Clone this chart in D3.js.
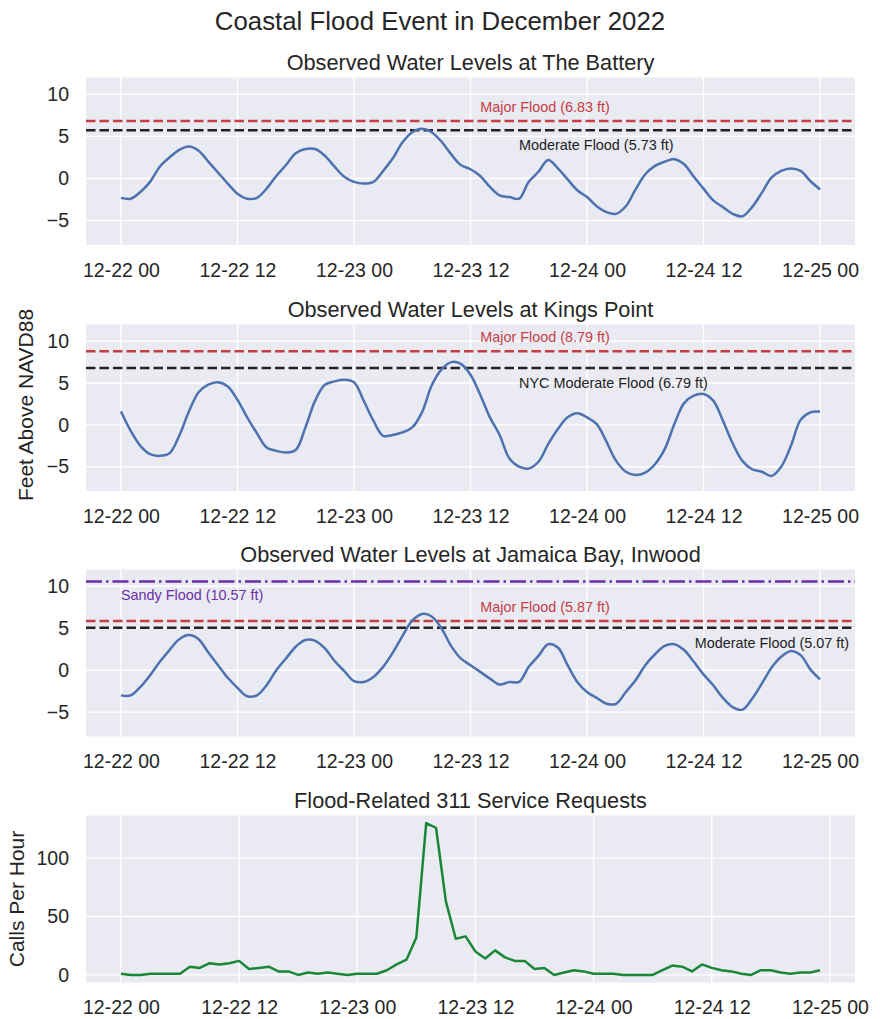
<!DOCTYPE html>
<html>
<head>
<meta charset="utf-8">
<script src="https://cdn.jsdelivr.net/npm/d3@7"></script>
<style>
  body { margin: 0; background: #fff; }
  svg { display: block; font-family: "Liberation Sans", Arial, sans-serif; }
</style>
</head>
<body>
<div id="chart"></div>
<script>
// hourly readings, 12-22 00:00 through 12-25 00:00 (feet above NAVD88)
const battery = [-2.3, -2.4, -1.6, -0.4, 1.4, 2.5, 3.4, 3.8, 3.3, 2.0, 0.7, -0.6, -1.8, -2.4, -2.3, -1.2,
  0.3, 1.6, 3.0, 3.5, 3.5, 2.7, 1.4, 0.2, -0.4, -0.6, -0.4, 0.9, 2.4, 4.3, 5.5, 5.9, 5.5, 4.4, 2.9, 1.6,
  1.1, 0.3, -1.0, -2.0, -2.2, -2.4, -0.4, 0.8, 2.2, 1.2, -0.1, -1.4, -2.2, -3.3, -4.0, -4.2, -3.3, -1.3,
  0.5, 1.5, 2.0, 2.3, 1.7, 0.2, -1.2, -2.6, -3.4, -4.2, -4.5, -3.4, -1.7, 0.1, 0.9, 1.2, 0.9, -0.3, -1.3];
const kingsPoint = [1.6, -0.7, -2.5, -3.5, -3.7, -3.4, -1.3, 1.6, 3.9, 4.8, 5.1, 4.6, 3.0, 0.9, -1.0, -2.7,
  -3.1, -3.3, -3.0, -0.3, 2.9, 4.8, 5.2, 5.4, 5.1, 2.9, 0.5, -1.3, -1.2, -0.9, -0.3, 1.5, 4.7, 6.6, 7.5, 7.3,
  6.0, 3.6, 0.9, -1.2, -4.0, -5.0, -5.2, -4.4, -2.3, -0.5, 0.9, 1.4, 0.9, 0.1, -2.0, -4.3, -5.6, -6.0, -5.7,
  -4.7, -2.9, 0.1, 2.6, 3.5, 3.7, 2.9, 0.5, -2.2, -4.3, -5.3, -5.6, -6.1, -5.0, -2.5, 0.6, 1.5, 1.6];
const jamaicaBay = [-3.0, -3.0, -2.0, -0.6, 1.0, 2.4, 3.7, 4.2, 3.7, 2.1, 0.6, -0.9, -2.1, -3.1, -3.0, -1.8,
  0.0, 1.4, 2.8, 3.6, 3.5, 2.6, 1.1, -0.1, -1.3, -1.4, -0.8, 0.4, 2.1, 4.1, 5.9, 6.7, 6.4, 5.0, 2.9, 1.4,
  0.6, -0.2, -1.0, -1.7, -1.4, -1.4, 0.4, 1.7, 3.1, 2.7, 0.6, -1.4, -2.6, -3.3, -4.0, -4.0, -2.6, -1.2,
  0.6, 1.9, 2.9, 3.1, 2.4, 1.0, -0.5, -1.8, -3.3, -4.4, -4.7, -3.4, -1.6, 0.3, 1.6, 2.3, 1.8, 0.1, -1.1];
// flood-related 311 calls per hour, 12-22 00:00 through 12-24 23:00
const calls311 = [1, 0, 0, 1, 1, 1, 1, 7, 6, 10, 9, 10, 12, 5, 6, 7, 3, 3, 0, 2, 1, 2, 1, 0,
  1, 1, 1, 4, 9, 13, 32, 130, 126, 63, 31, 33, 20, 14, 21, 15, 12, 12, 5, 6, 0, 2, 4, 3,
  1, 1, 1, 0, 0, 0, 0, 4, 8, 7, 3, 9, 6, 4, 3, 1, 0, 4, 4, 2, 1, 2, 2, 4];

const batteryFlood = [{ kind: 'major', name: 'Major Flood', level: 6.83 },
  { kind: 'moderate', name: 'Moderate Flood', level: 5.73 }];
const kingsPointFlood = [{ kind: 'major', name: 'Major Flood', level: 8.79 },
  { kind: 'moderate', name: 'NYC Moderate Flood', level: 6.79 }];
const jamaicaBayFlood = [{ kind: 'sandy', name: 'Sandy Flood', level: 10.57 },
  { kind: 'major', name: 'Major Flood', level: 5.87 },
  { kind: 'moderate', name: 'Moderate Flood', level: 5.07 }];

const levelTicks = [-5, 0, 5, 10];
const callTicks = [0, 50, 100];
const tickHours = [0, 12, 24, 36, 48, 60, 72];

const width = 880, height = 1019;
const left = 86, right = 855;
const textColor = '#262626';
const start = new Date(2022, 11, 22, 0);
const at = h => new Date(start.getTime() + h * 3600e3);
const fmt = d3.timeFormat('%m-%d %H');

const floodStyle = {
  major: { color: '#C63D42', dash: '9.5,4', hour: 37, dy: -14, anchor: 'start' },
  moderate: { color: '#222222', dash: '9.5,4', hour: 41, dy: 15, anchor: 'start' },
  sandy: { color: '#6B2FA6', dash: '16,4,2.5,4', hour: 0, dy: 13, anchor: 'start' }
};

const svg = d3.select('#chart').append('svg')
  .attr('width', width)
  .attr('height', height);

svg.append('text')
  .attr('x', width / 2).attr('y', 30)
  .attr('text-anchor', 'middle')
  .attr('font-size', 25.8)
  .attr('fill', textColor)
  .text('Coastal Flood Event in December 2022');

function drawPanel(p) {
  const x = d3.scaleTime().domain([at(p.xPad[0]), at(p.xPad[1])]).range([left, right]);
  const y = d3.scaleLinear().domain(p.yDomain).range([p.bottom, p.top]);
  const g = svg.append('g');

  g.append('rect')
    .attr('x', left).attr('y', p.top)
    .attr('width', right - left).attr('height', p.bottom - p.top)
    .attr('fill', '#EAEAF2');

  const clipId = 'clip' + p.id;
  g.append('clipPath').attr('id', clipId).append('rect')
    .attr('x', left).attr('y', p.top)
    .attr('width', right - left).attr('height', p.bottom - p.top);

  // grid
  g.append('g').selectAll('line').data(tickHours).join('line')
    .attr('x1', d => x(at(d))).attr('x2', d => x(at(d)))
    .attr('y1', p.top).attr('y2', p.bottom)
    .attr('stroke', '#fff').attr('stroke-width', 1.4);
  g.append('g').selectAll('line').data(p.yTicks).join('line')
    .attr('x1', left).attr('x2', right)
    .attr('y1', d => y(d)).attr('y2', d => y(d))
    .attr('stroke', '#fff').attr('stroke-width', 1.4);

  // axes (labels only, seaborn darkgrid style)
  const xAxis = g.append('g')
    .attr('transform', `translate(0,${p.bottom})`)
    .call(d3.axisBottom(x).tickValues(tickHours.map(at)).tickFormat(fmt).tickSize(0).tickPadding(18));
  xAxis.select('.domain').remove();
  xAxis.selectAll('text').attr('font-size', 19.5).attr('fill', textColor)
    .attr('font-family', '"Liberation Sans", Arial, sans-serif');

  const yAxis = g.append('g')
    .attr('transform', `translate(${left},0)`)
    .call(d3.axisLeft(y).tickValues(p.yTicks).tickFormat(d => d < 0 ? '\u2212' + Math.abs(d) : d).tickSize(0).tickPadding(17));
  yAxis.select('.domain').remove();
  yAxis.selectAll('text').attr('font-size', 19.5).attr('fill', textColor)
    .attr('font-family', '"Liberation Sans", Arial, sans-serif');

  // threshold lines
  (p.flood || []).forEach(f => {
    const s = floodStyle[f.kind];
    g.append('line')
      .attr('x1', left).attr('x2', right)
      .attr('y1', y(f.level)).attr('y2', y(f.level))
      .attr('stroke', s.color).attr('stroke-width', 2.5)
      .attr('stroke-dasharray', s.dash);
  });

  const line = d3.line()
    .x((d, i) => x(at(i)))
    .y(d => y(d))
    .curve(p.curve);
  g.append('path')
    .datum(p.values)
    .attr('clip-path', `url(#${clipId})`)
    .attr('d', line)
    .attr('fill', 'none')
    .attr('stroke', p.color)
    .attr('stroke-width', 2.5)
    .attr('stroke-linejoin', 'round');

  (p.flood || []).forEach(f => {
    const s = floodStyle[f.kind];
    const anchor = p.anchor && p.anchor[f.kind] ? p.anchor[f.kind] : s;
    g.append('text')
      .attr('x', x(at(anchor.hour)))
      .attr('y', y(f.level) + s.dy)
      .attr('dy', '0.35em')
      .attr('text-anchor', anchor.anchor)
      .attr('font-size', 14.4)
      .attr('fill', s.color)
      .text(`${f.name} (${f.level} ft)`);
  });

  g.append('text')
    .attr('x', (left + right) / 2).attr('y', p.top - 8)
    .attr('text-anchor', 'middle')
    .attr('font-size', 21.7)
    .attr('fill', textColor)
    .text(p.title);

  if (p.ylabel) {
    g.append('text')
      .attr('transform', `translate(${p.ylabel.x},${p.ylabel.y}) rotate(-90)`)
      .attr('text-anchor', 'middle')
      .attr('dy', '0.35em')
      .attr('font-size', 21)
      .attr('fill', textColor)
      .text(p.ylabel.text);
  }
}

const levelDomain = [-7.9, 12];
const levelPad = [-3.6, 75.6];

drawPanel({ id: 1, title: 'Observed Water Levels at The Battery', top: 77.5, bottom: 245,
  values: battery, flood: batteryFlood, yDomain: levelDomain, yTicks: levelTicks, xPad: levelPad,
  color: '#4C72B0', curve: d3.curveCatmullRom });
drawPanel({ id: 2, title: 'Observed Water Levels at Kings Point', top: 324.5, bottom: 491,
  values: kingsPoint, flood: kingsPointFlood, yDomain: levelDomain, yTicks: levelTicks, xPad: levelPad,
  color: '#4C72B0', curve: d3.curveCatmullRom,
  ylabel: { text: 'Feet Above NAVD88', x: 26, y: 405 } });
drawPanel({ id: 3, title: 'Observed Water Levels at Jamaica Bay, Inwood', top: 569.5, bottom: 736.5,
  values: jamaicaBay, flood: jamaicaBayFlood, yDomain: levelDomain, yTicks: levelTicks, xPad: levelPad,
  color: '#4C72B0', curve: d3.curveCatmullRom,
  anchor: { moderate: { hour: 75.0, anchor: 'end' } } });
drawPanel({ id: 4, title: 'Flood-Related 311 Service Requests', top: 815.5, bottom: 982.5,
  values: calls311, yDomain: [-6.5, 136.5], yTicks: callTicks, xPad: [-3.55, 74.55],
  color: '#1A8737', curve: d3.curveLinear,
  ylabel: { text: 'Calls Per Hour', x: 17, y: 899 } });
</script>
</body>
</html>
